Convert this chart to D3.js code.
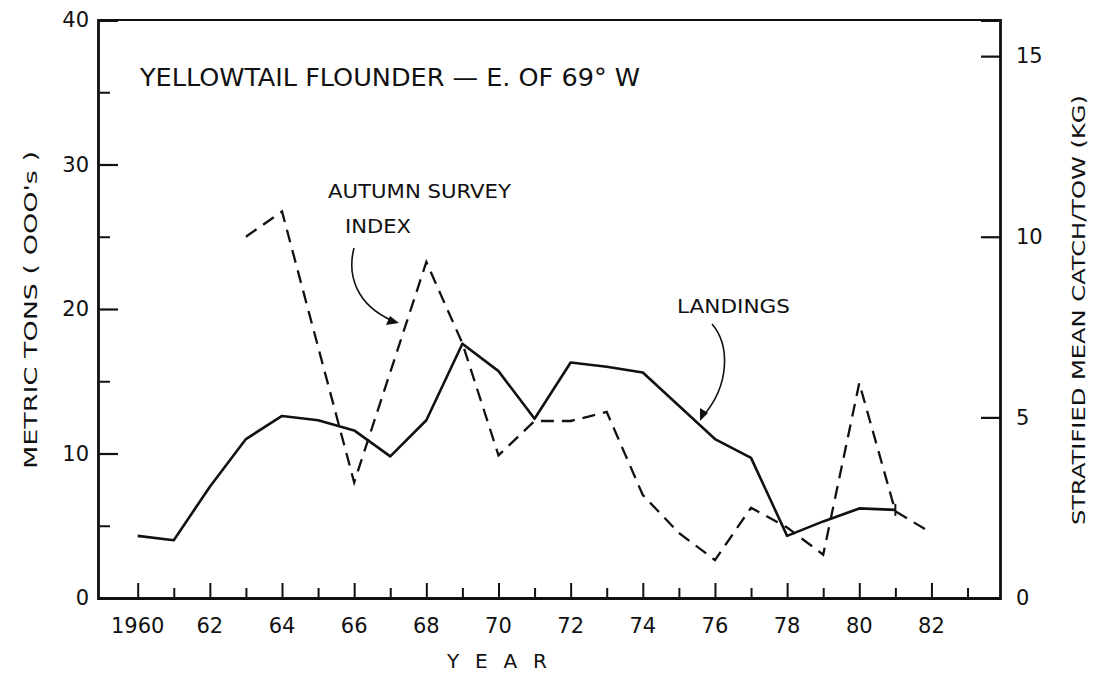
<!DOCTYPE html>
<html>
<head>
<meta charset="utf-8">
<script src="https://cdn.jsdelivr.net/npm/d3@7"></script>
<style>
  html, body { margin: 0; padding: 0; background: #fff; }
  svg text { fill: #111; }
</style>
</head>
<body>
<svg id="chart" width="1095" height="675"></svg>
<script>
// ---- data ----
const landingYears = [1960,1961,1962,1963,1964,1965,1966,1967,1968,1969,1970,1971,1972,1973,1974,1975,1976,1977,1978,1979,1980,1981];
const landingValues = [4.3,4.0,7.7,11.0,12.6,12.3,11.6,9.8,12.3,17.6,15.7,12.4,16.3,16.0,15.6,13.3,11.0,9.7,4.3,5.3,6.2,6.1];

const surveyYears = [1963,1964,1966,1968,1969,1970,1971,1972,1973,1974,1975,1976,1977,1978,1979,1980,1981,1982];
const surveyValues = [10.0,10.7,3.2,9.3,7.05,3.95,4.9,4.9,5.15,2.85,1.8,1.05,2.5,1.95,1.2,5.95,2.4,1.8];

const leftTicks = [0,10,20,30,40];
const leftMinorTicks = [5,15,25,35];
const rightTicks = [0,5,10,15];
const yearTicks = [1960,1961,1962,1963,1964,1965,1966,1967,1968,1969,1970,1971,1972,1973,1974,1975,1976,1977,1978,1979,1980,1981,1982,1983];
const yearLabels = ["1960","62","64","66","68","70","72","74","76","78","80","82"];

const titleText = "YELLOWTAIL FLOUNDER — E. OF 69° W";
const leftTitle = "METRIC TONS ( OOO's )";
const rightTitle = "STRATIFIED MEAN CATCH/TOW (KG)";
const xTitle = "Y E A R";

// ---- layout ----
const svg = d3.select("#chart");
const L = 98, R = 1000, T = 20, B = 598;
const x = d3.scaleLinear().domain([1958.9, 1983.9]).range([L, R]);
const yL = d3.scaleLinear().domain([0, 40]).range([B, T]);
const yR = d3.scaleLinear().domain([0, 16]).range([B, T]);

const ink = "#111";
const numFont = "'DejaVu Sans', 'Liberation Sans', sans-serif";
const txtFont = "'DejaVu Sans Condensed', 'Liberation Sans Narrow', 'DejaVu Sans', sans-serif";

// frame
const g = svg.append("g");
g.append("line").attr("x1", L).attr("x2", R).attr("y1", T).attr("y2", T)
  .attr("stroke", ink).attr("stroke-width", 2.2);

// left axis
const leftAxis = d3.axisLeft(yL).tickValues(leftTicks).tickSize(-20).tickPadding(9).tickFormat(d3.format("d"));
const gl = g.append("g").attr("transform", `translate(${L},0)`).call(leftAxis);
gl.select(".domain").attr("stroke", ink).attr("stroke-width", 2.8);
gl.selectAll(".tick line").attr("stroke", ink).attr("stroke-width", 2.2);
gl.selectAll(".tick text").attr("font-family", numFont).attr("font-size", 21).attr("fill", ink);
gl.selectAll(".tick").filter(d => d === 40).select("line").remove();
gl.selectAll(".tick").filter(d => d === 0).select("line").remove();
const leftMinor = d3.axisLeft(yL).tickValues(leftMinorTicks).tickSize(-12).tickFormat("");
const glm = g.append("g").attr("transform", `translate(${L},0)`).call(leftMinor);
glm.select(".domain").remove();
glm.selectAll(".tick line").attr("stroke", ink).attr("stroke-width", 2);

// right axis
const rightAxis = d3.axisRight(yR).tickValues(rightTicks).tickSize(-19).tickPadding(16).tickFormat(d3.format("d"));
const gr = g.append("g").attr("transform", `translate(${R},0)`).call(rightAxis);
gr.select(".domain").attr("stroke", ink).attr("stroke-width", 2.8);
gr.selectAll(".tick line").attr("stroke", ink).attr("stroke-width", 2.2);
gr.selectAll(".tick text").attr("font-family", numFont).attr("font-size", 21).attr("fill", ink);
gr.selectAll(".tick").filter(d => d === 0).select("line").remove();

// bottom axis
const bottomAxis = d3.axisBottom(x).tickValues(yearTicks).tickSize(0).tickFormat("");
const gb = g.append("g").attr("transform", `translate(0,${B})`).call(bottomAxis);
gb.select(".domain").attr("stroke", ink).attr("stroke-width", 3.2);
gb.selectAll(".tick line")
  .attr("y2", d => (d % 2 === 0 ? -15 : -10))
  .attr("stroke", ink).attr("stroke-width", 2);
gb.selectAll(".tick text").remove();
const labelYears = yearLabels.map(s => s.length === 4 ? +s : 1900 + +s);
g.append("g").selectAll("text").data(labelYears).join("text")
  .attr("x", d => x(d)).attr("y", B + 35)
  .attr("text-anchor", "middle")
  .attr("font-family", numFont).attr("font-size", 21)
  .text((d, i) => yearLabels[i]);

// axis titles
g.append("text").attr("x", 497).attr("y", 668).attr("text-anchor", "middle")
  .attr("font-family", numFont).attr("font-size", 20)
  .attr("textLength", 100).attr("lengthAdjust", "spacing")
  .text(xTitle);
g.append("text").attr("transform", "translate(37,310) rotate(-90)").attr("text-anchor", "middle")
  .attr("font-family", numFont).attr("font-size", 17).attr("textLength", 318).attr("lengthAdjust", "spacingAndGlyphs")
  .text(leftTitle);
g.append("text").attr("transform", "translate(1085,310) rotate(-90)").attr("text-anchor", "middle")
  .attr("font-family", numFont).attr("font-size", 18).attr("textLength", 430).attr("lengthAdjust", "spacingAndGlyphs")
  .text(rightTitle);

// lines
const landingData = landingYears.map((yr, i) => ({ yr, v: landingValues[i] }));
const surveyData = surveyYears.map((yr, i) => ({ yr, v: surveyValues[i] }));

g.append("path").datum(surveyData)
  .attr("fill", "none").attr("stroke", ink).attr("stroke-width", 2.3)
  .attr("stroke-dasharray", "13,8")
  .attr("d", d3.line().x(d => x(d.yr)).y(d => yR(d.v)));

g.append("path").datum(landingData)
  .attr("fill", "none").attr("stroke", ink).attr("stroke-width", 2.6)
  .attr("stroke-linejoin", "round")
  .attr("d", d3.line().x(d => x(d.yr)).y(d => yL(d.v)));

// small end tick on landings at 1981
const last = landingData[landingData.length - 1];
g.append("line").attr("x1", x(last.yr)).attr("x2", x(last.yr))
  .attr("y1", yL(last.v) - 6).attr("y2", yL(last.v) + 6)
  .attr("stroke", ink).attr("stroke-width", 2);

// annotations
g.append("text").attr("x", 140).attr("y", 86)
  .attr("font-family", txtFont).attr("font-size", 24)
  .attr("textLength", 500).attr("lengthAdjust", "spacingAndGlyphs")
  .text(titleText);
g.append("text").attr("x", 328).attr("y", 198)
  .attr("font-family", txtFont).attr("font-size", 19)
  .attr("textLength", 183).attr("lengthAdjust", "spacingAndGlyphs")
  .text("AUTUMN SURVEY");
g.append("text").attr("x", 345).attr("y", 233)
  .attr("font-family", txtFont).attr("font-size", 19)
  .attr("textLength", 66).attr("lengthAdjust", "spacingAndGlyphs")
  .text("INDEX");
g.append("text").attr("x", 677).attr("y", 313)
  .attr("font-family", txtFont).attr("font-size", 19)
  .attr("textLength", 113).attr("lengthAdjust", "spacingAndGlyphs")
  .text("LANDINGS");

// curved pointer arrows
g.append("path").attr("d", "M354,248 C347,275 356,305 393,321")
  .attr("fill", "none").attr("stroke", ink).attr("stroke-width", 1.6);
g.append("path").attr("d", "M399,323 L386,325 L390,316 Z").attr("fill", ink);

g.append("path").attr("d", "M712,324 C730,345 730,385 703,416")
  .attr("fill", "none").attr("stroke", ink).attr("stroke-width", 1.6);
g.append("path").attr("d", "M700,421 L700,408 L708,413 Z").attr("fill", ink);
</script>
</body>
</html>
